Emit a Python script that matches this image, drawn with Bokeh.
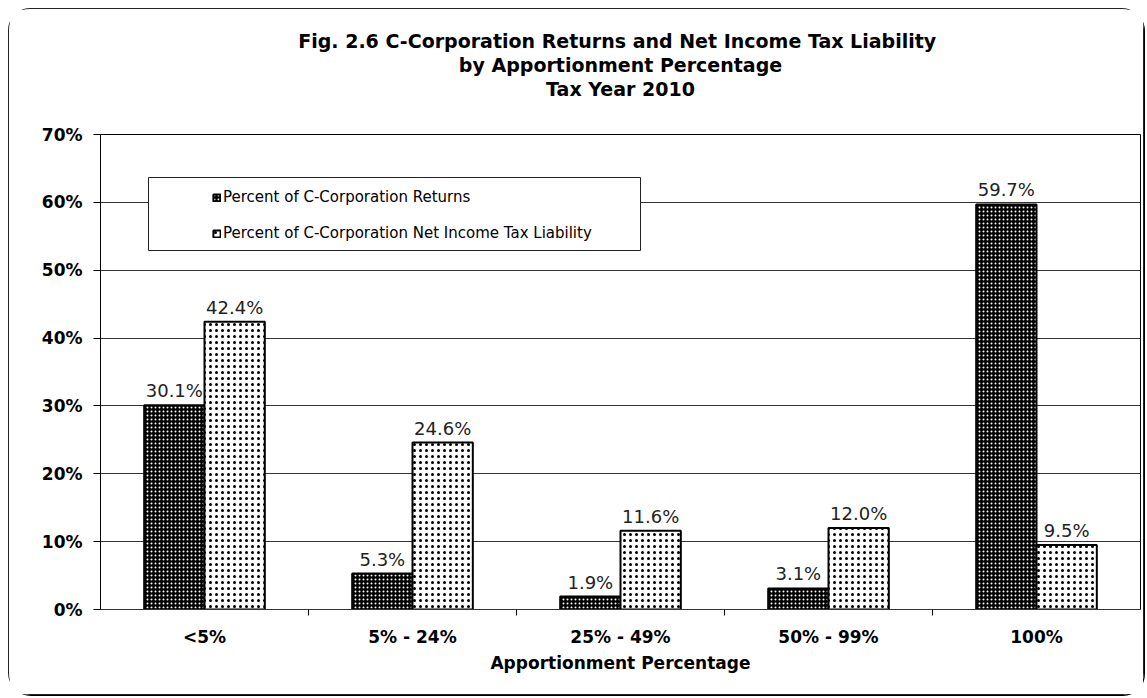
from bokeh.plotting import figure
from bokeh.models import (ColumnDataSource, Range1d, FixedTicker, CustomJSTickFormatter,
                          PrintfTickFormatter, LabelSet, Legend, LegendItem, BoxAnnotation, Title)
from bokeh.core.properties import value
from bokeh.transform import dodge
from bokeh.embed import file_html
from bokeh.resources import INLINE

categories = ["<5%", "5% - 24%", "25% - 49%", "50% - 99%", "100%"]
returns_pct = [30.1, 5.3, 1.9, 3.1, 59.7]
liability_pct = [42.4, 24.6, 11.6, 12.0, 9.5]
y_ticks = [0, 10, 20, 30, 40, 50, 60, 70]
series_names = ["Percent of C-Corporation Returns",
                "Percent of C-Corporation Net Income Tax Liability"]
title_lines = ["Fig. 2.6  C-Corporation Returns and Net Income Tax Liability",
               "by Apportionment Percentage",
               "Tax Year 2010"]

centers = [i + 0.5 for i in range(len(categories))]
bounds = [i for i in range(1, len(categories))]

src = ColumnDataSource(dict(
    x=centers, cat=categories, ret=returns_pct, liab=liability_pct,
    ret_lbl=["%.1f%%" % v for v in returns_pct],
    liab_lbl=["%.1f%%" % v for v in liability_pct],
))

BOLD = "DejaVu Sans"
p = figure(width=1136, height=687, output_backend="svg", toolbar_location=None,
           x_range=Range1d(0, len(categories)), y_range=Range1d(0, 70),
           min_border_left=91, min_border_right=5, min_border_top=125, min_border_bottom=87,
           background_fill_color="white", border_fill_color="white",
           outline_line_color="black", outline_line_width=1,
           styles={"margin": "8px 0 0 8px", "border": "1px solid #222", "border-radius": "22px",
                   "box-shadow": "1px 1px 0px #000"})

# empty spacer between the title block and the plot frame
p.add_layout(Title(text=" ", text_font_size="30px", text_line_height=0.8, standoff=0), "above")
# title lines: bottom line first (closest to the frame)
for line in reversed(title_lines):
    t = Title(text=line, align="center", offset=-46, text_font=BOLD, text_font_style="bold",
              text_font_size="19px", text_color="black", text_line_height=0.8, standoff=0)
    p.add_layout(t, "above")

bw = 0.29
off = bw / 2
r1 = p.vbar(x=dodge("x", -off, range=p.x_range), top="ret", width=bw, source=src,
            fill_color="black", line_color="black", line_width=2,
            hatch_pattern="dot", hatch_color="white", hatch_scale=4, hatch_weight=1)
r2 = p.vbar(x=dodge("x", off, range=p.x_range), top="liab", width=bw, source=src,
            fill_color="white", line_color="black", line_width=2,
            hatch_pattern="dot", hatch_color="black", hatch_scale=6, hatch_weight=1)

for col, dx in (("ret", -off), ("liab", off)):
    lbl = LabelSet(x=dodge("x", dx, range=p.x_range), y=col, text=col + "_lbl", source=src,
                   text_align="center", text_baseline="bottom", y_offset=4,
                   text_font=value("DejaVu Sans"), text_font_size="18px", text_color="#222")
    p.add_layout(lbl)

# grid
p.xgrid.visible = False
p.ygrid.ticker = FixedTicker(ticks=y_ticks)
p.ygrid.grid_line_color = "#333"
p.ygrid.grid_line_width = 1

# y axis
p.yaxis.ticker = FixedTicker(ticks=y_ticks)
p.yaxis.formatter = PrintfTickFormatter(format="%d%%")
p.yaxis.major_label_text_font = BOLD
p.yaxis.major_label_text_font_style = "bold"
p.yaxis.major_label_text_font_size = "17px"
p.yaxis.major_label_text_color = "black"
p.yaxis.major_tick_out = 7
p.yaxis.major_tick_in = 0
p.yaxis.minor_tick_line_color = None
p.yaxis.axis_line_color = "black"
p.yaxis.major_tick_line_color = "black"
p.yaxis.major_label_standoff = 11

# x axis
p.xaxis.ticker = FixedTicker(ticks=centers, minor_ticks=bounds)
p.xaxis.formatter = CustomJSTickFormatter(args=dict(labels=categories),
                                          code="return labels[Math.floor(tick)];")
p.xaxis.major_tick_line_color = None
p.xaxis.minor_tick_line_color = "black"
p.xaxis.minor_tick_out = 6
p.xaxis.minor_tick_in = 0
p.xaxis.axis_line_color = "#333"
p.xaxis.axis_line_width = 1
p.xaxis.major_label_text_font = BOLD
p.xaxis.major_label_text_font_style = "bold"
p.xaxis.major_label_text_font_size = "17px"
p.xaxis.major_label_text_color = "black"
p.xaxis.major_label_standoff = 11
p.xaxis.axis_label = "Apportionment Percentage"
p.xaxis.axis_label_text_font = BOLD
p.xaxis.axis_label_text_font_style = "bold"
p.xaxis.axis_label_text_font_size = "17px"
p.xaxis.axis_label_text_color = "black"
p.xaxis.axis_label_standoff = 3

# legend frame
box = BoxAnnotation(left=48, right=540, top=432, bottom=359,
                    left_units="screen", right_units="screen",
                    top_units="screen", bottom_units="screen",
                    fill_color="white", fill_alpha=1.0,
                    line_color="#222", line_width=1, line_alpha=1.0)
p.add_layout(box)

legend = Legend(items=[LegendItem(label=series_names[0], renderers=[r1]),
                       LegendItem(label=series_names[1], renderers=[r2])],
                location=(112, 366), orientation="vertical",
                glyph_width=9, glyph_height=9, label_standoff=2,
                label_height=20, spacing=16, padding=0, margin=0,
                border_line_color=None, background_fill_alpha=0,
                label_text_font="DejaVu Sans", label_text_font_size="15px",
                label_text_color="black")
p.add_layout(legend)

open("out.html", "w").write(file_html(p, INLINE))
